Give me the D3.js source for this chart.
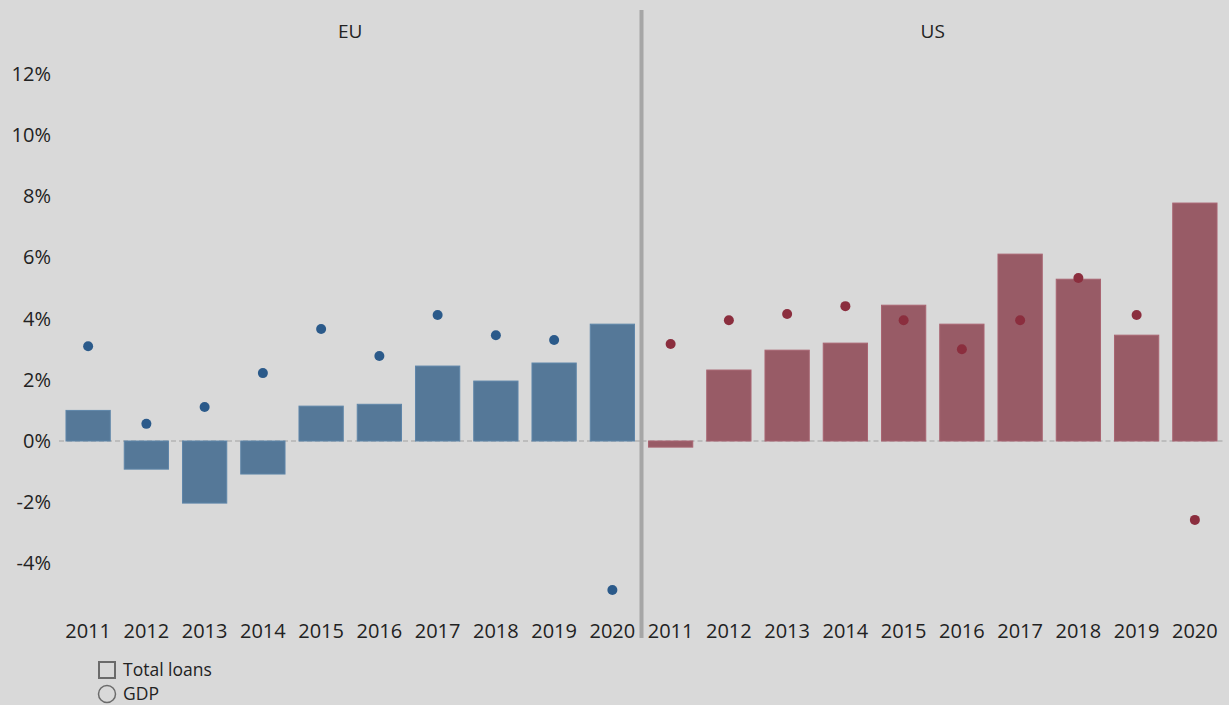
<!DOCTYPE html>
<html>
<head>
<meta charset="utf-8">
<script src="https://cdn.jsdelivr.net/npm/d3@7"></script>
<style>
  body { margin: 0; background: #d9d9d9; }
  svg text { font-family: "Open Sans", "Noto Sans", sans-serif; fill: #222; }
</style>
</head>
<body>
<div id="chart"></div>
<script>
// data
var years = ['2011','2012','2013','2014','2015','2016','2017','2018','2019','2020'];
var regions = ['EU', 'US'];
var euLoans = [1.0, -0.92, -2.03, -1.08, 1.14, 1.2, 2.45, 1.96, 2.55, 3.82];
var euGdp = [3.1, 0.56, 1.11, 2.22, 3.66, 2.78, 4.12, 3.46, 3.3, -4.87];
var usLoans = [-0.2, 2.32, 2.97, 3.2, 4.44, 3.82, 6.11, 5.29, 3.46, 7.78];
var usGdp = [3.17, 3.95, 4.15, 4.41, 3.95, 3.0, 3.95, 5.33, 4.12, -2.58];
var yTicks = [-4, -2, 0, 2, 4, 6, 8, 10, 12];
var legendItems = ['Total loans', 'GDP'];

var width = 1229, height = 705;
var svg = d3.select('#chart').append('svg')
  .attr('width', width)
  .attr('height', height);

svg.append('rect').attr('width', width).attr('height', height).attr('fill', '#d9d9d9');

//y scale shared by both panels
var y = d3.scaleLinear().domain([0, 12]).range([441, 74]);

//y axis labels
var yAxis = svg.append('g')
  .attr('transform', 'translate(51,0)')
  .call(d3.axisLeft(y).tickValues(yTicks).tickSize(0).tickPadding(0)
    .tickFormat(function(d){ return d + '%'; }));
yAxis.select('.domain').remove();
yAxis.selectAll('text')
  .style('font-size', '20px')
  .attr('fill', '#222');

//region panels
var panelX = d3.scaleBand().domain(regions).range([59, 1224]);

var series = [
  {name: 'EU', loans: euLoans, gdp: euGdp, bar: '#557898', dot: '#2b5a8a'},
  {name: 'US', loans: usLoans, gdp: usGdp, bar: '#985b66', dot: '#8b2e3e'}
];

series.forEach(function(s){
  var x0 = panelX(s.name);
  var x = d3.scaleBand().domain(years)
    .range([x0, x0 + panelX.bandwidth()])
    .paddingInner(0.24).paddingOuter(0.12);
  var g = svg.append('g');

  //panel title
  g.append('text')
    .attr('x', x0 + panelX.bandwidth() / 2)
    .attr('y', 38)
    .attr('text-anchor', 'middle')
    .style('font-size', '19px')
    .text(s.name);

  //zero line
  g.append('line')
    .attr('x1', x0).attr('x2', x0 + panelX.bandwidth())
    .attr('y1', y(0)).attr('y2', y(0))
    .style('stroke', '#bdbdbd')
    .style('stroke-width', 2)
    .style('stroke-dasharray', '5,3');

  //bars
  g.selectAll('rect.bar').data(s.loans).enter().append('rect')
    .attr('class', 'bar')
    .attr('x', function(d, i){ return x(years[i]); })
    .attr('y', function(d){ return y(Math.max(0, d)); })
    .attr('width', x.bandwidth())
    .attr('height', function(d){ return Math.abs(y(d) - y(0)); })
    .style('fill', s.bar)
    .style('stroke', d3.color(s.bar).brighter(0.3))
    .style('stroke-width', 1);

  //gdp dots
  g.selectAll('circle.gdp').data(s.gdp).enter().append('circle')
    .attr('class', 'gdp')
    .attr('cx', function(d, i){ return x(years[i]) + x.bandwidth() / 2; })
    .attr('cy', function(d){ return y(d); })
    .attr('r', 5)
    .style('fill', s.dot);

  //x axis labels
  var xAxis = g.append('g')
    .attr('transform', 'translate(0,' + 618 + ')')
    .call(d3.axisBottom(x).tickSize(0).tickPadding(0));
  xAxis.select('.domain').remove();
  xAxis.selectAll('text')
    .style('font-size', '20px')
    .attr('dy', '1em')
    .attr('fill', '#222');
});

//divider between panels
svg.append('line')
  .attr('x1', panelX('US')).attr('x2', panelX('US'))
  .attr('y1', 10).attr('y2', 638)
  .style('stroke', '#a6a6a6')
  .style('stroke-width', 4);

//legend
var legend = svg.append('g').attr('transform', 'translate(98,661)');
legend.append('rect')
  .attr('x', 1).attr('y', 1).attr('width', 16).attr('height', 16)
  .style('fill', 'none').style('stroke', '#6b6b6b').style('stroke-width', 2);
legend.append('circle')
  .attr('cx', 9).attr('cy', 33).attr('r', 8.5)
  .style('fill', 'none').style('stroke', '#6b6b6b').style('stroke-width', 1.5);
legend.selectAll('text').data(legendItems).enter().append('text')
  .attr('x', 25)
  .attr('y', function(d, i){ return 15 + i * 24; })
  .style('font-size', '17.5px')
  .text(function(d){ return d; });
</script>
</body>
</html>
